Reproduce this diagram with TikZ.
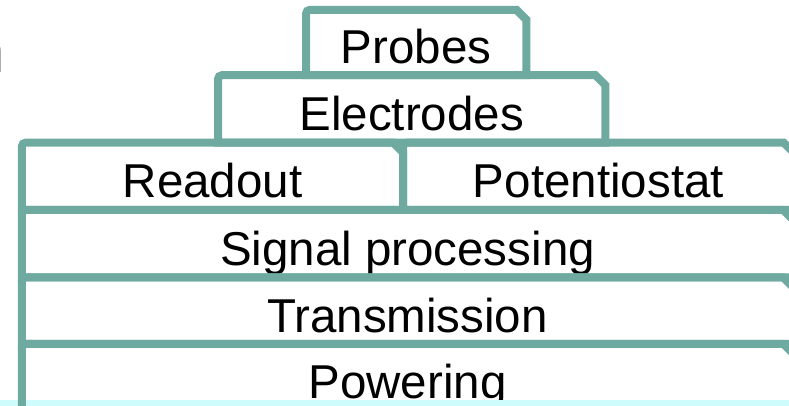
\documentclass[tikz,border=0pt]{standalone}
\usepackage{fontspec}
\setmainfont{Liberation Sans}
\usetikzlibrary{positioning}
\definecolor{layerteal}{RGB}{111,170,161}
\definecolor{bandcyan}{RGB}{206,252,252}
\definecolor{cutgray}{RGB}{80,80,80}

\begin{document}
\begin{tikzpicture}[
  x=1pt, y=1pt,
  node distance=0pt and 0pt,
  layer/.style={inner sep=0pt, text height=43pt, text depth=0pt,
                font=\fontsize{47.5}{57}\selectfont},
  edge/.style={draw=layerteal, line width=8pt, line join=miter}
]
\useasboundingbox (0,0) rectangle (789,406);
\clip (0,0) rectangle (789,406);

% the stack, bottom up
\node[layer, minimum width=771pt, minimum height=66pt] (power) at (407.5,29) {Powering};
\node[layer, minimum width=771pt, minimum height=66pt, above=of power] (trans) {Transmission};
\node[layer, minimum width=771pt, minimum height=67pt, above=of trans] (signal) {Signal processing};
\node[layer, minimum width=381pt, minimum height=67pt, above right=0pt and 0pt of signal.north west] (readout) {Readout};
\node[layer, minimum width=390pt, minimum height=67pt, right=of readout] (potentio) {Potentiostat};
\node[layer, minimum width=387pt, minimum height=67pt, above=of readout.north east, xshift=8.5pt] (electrodes) {Electrodes};
\node[layer, minimum width=220pt, minimum height=65pt, above=of electrodes, xshift=4.5pt] (probes) {Probes};
\node[font=\fontsize{60}{72}\selectfont, text=cutgray, inner sep=0pt, anchor=base east] (cut) at (5.5,333) {n};

\fill[bandcyan] (0,0) rectangle (789,6);

% outlines: round top-left corner, cut top-right corner
\foreach \n in {power,trans,signal,readout,potentio,electrodes,probes}
  \draw[edge] (\n.south west) -- ([yshift=-4pt]\n.north west)
    arc[start angle=180, end angle=90, radius=4pt]
    -- ([xshift=-10pt]\n.north east) -- ([yshift=-10pt]\n.north east)
    -- (\n.south east) -- cycle;
\end{tikzpicture}
\end{document}
